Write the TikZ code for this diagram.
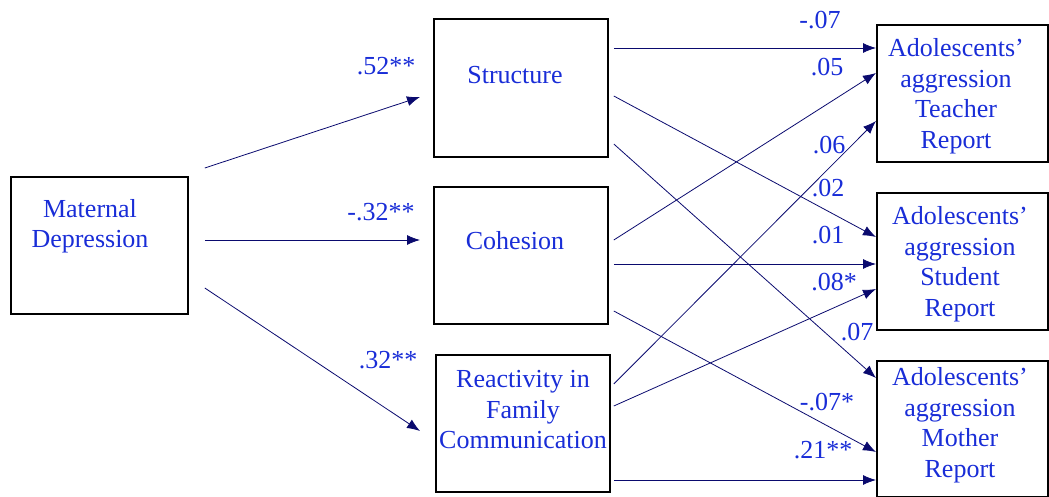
\documentclass[tikz,border=0pt]{standalone}
\usepackage{fontspec}
\setmainfont{Liberation Serif}
\usetikzlibrary{arrows.meta,calc}
\definecolor{txtblue}{RGB}{25,45,215}
\definecolor{navy}{RGB}{10,10,110}
\begin{document}
\begin{tikzpicture}[x=1pt,y=-1pt,
  box/.style={draw=black,line width=1.8pt,inner sep=0pt,anchor=north west},
  txt/.style={text=txtblue,font=\fontsize{26}{30.5}\selectfont,align=center,inner sep=0pt},
  lbl/.style={text=txtblue,font=\fontsize{26}{30.5}\selectfont,inner sep=0pt},
  arr/.style={draw=navy,line width=0.8pt,-{Latex[length=13pt,width=10pt]}}]
\useasboundingbox (0,0) rectangle (1049,497);
% boxes
\node[box,minimum width=177pt,minimum height=137pt] (md) at (10,176) {};
\node[box,minimum width=174pt,minimum height=138pt] (st) at (433,18) {};
\node[box,minimum width=174pt,minimum height=137pt] (co) at (433,186) {};
\node[box,minimum width=174pt,minimum height=137pt] (re) at (435,354) {};
\node[box,minimum width=171pt,minimum height=137pt] (te) at (876,24) {};
\node[box,minimum width=171pt,minimum height=137pt] (su) at (876,192) {};
\node[box,minimum width=171pt,minimum height=136pt] (mo) at (876,360) {};
% box texts
\node[txt] (mdt) at (90,226) {Maternal\\Depression};
\node[txt] (stt) at (515,75) {Structure};
\node[txt] (cot) at (515,241) {Cohesion};
\node[txt] (ret) at (523,410) {Reactivity in\\Family\\Communication};
\node[txt] (tet) at (956,96) {Adolescents'\\aggression\\Teacher\\Report};
\node[txt] (sut) at (960,264) {Adolescents'\\aggression\\Student\\Report};
\node[txt] (mot) at (960,425) {Adolescents'\\aggression\\Mother\\Report};
% left arrows
\draw[arr] ([shift={(16,-8)}]md.north east) -- ([shift={(-13,79)}]st.north west);
\draw[arr] ([shift={(16,64)}]md.north east) -- ([shift={(-13,54)}]co.north west);
\draw[arr] ([shift={(16,112)}]md.north east) -- ([shift={(-15,77)}]re.north west);
% right arrows
\draw[arr] ([shift={(5,30)}]st.north east) -- ([shift={(0,24)}]te.north west);
\draw[arr] ([shift={(5,78)}]st.north east) -- ([shift={(0,45)}]su.north west);
\draw[arr] ([shift={(5,126)}]st.north east) -- ([shift={(0,18)}]mo.north west);
\draw[arr] ([shift={(5,54)}]co.north east) -- ([shift={(0,49)}]te.north west);
\draw[arr] ([shift={(5,78)}]co.north east) -- ([shift={(0,72)}]su.north west);
\draw[arr] ([shift={(5,125)}]co.north east) -- ([shift={(0,92)}]mo.north west);
\draw[arr] ([shift={(3,30)}]re.north east) -- ([shift={(0,97)}]te.north west);
\draw[arr] ([shift={(3,52)}]re.north east) -- ([shift={(0,97)}]su.north west);
\draw[arr] ([shift={(3,126)}]re.north east) -- ([shift={(0,120)}]mo.north west);
% labels
\node[lbl] (l1) at (386,66) {.52**};
\node[lbl] (l2) at (381,212) {-.32**};
\node[lbl] (l3) at (388,360) {.32**};
\node[lbl] (l4) at (820,20) {-.07};
\node[lbl] (l5) at (827,67) {.05};
\node[lbl] (l6) at (829,145) {.06};
\node[lbl] (l7) at (828,188) {.02};
\node[lbl] (l8) at (828,235) {.01};
\node[lbl] (l9) at (834,282) {.08*};
\node[lbl] (l10) at (857,332) {.07};
\node[lbl] (l11) at (827,402) {-.07*};
\node[lbl] (l12) at (823,450) {.21**};
\end{tikzpicture}
\end{document}
